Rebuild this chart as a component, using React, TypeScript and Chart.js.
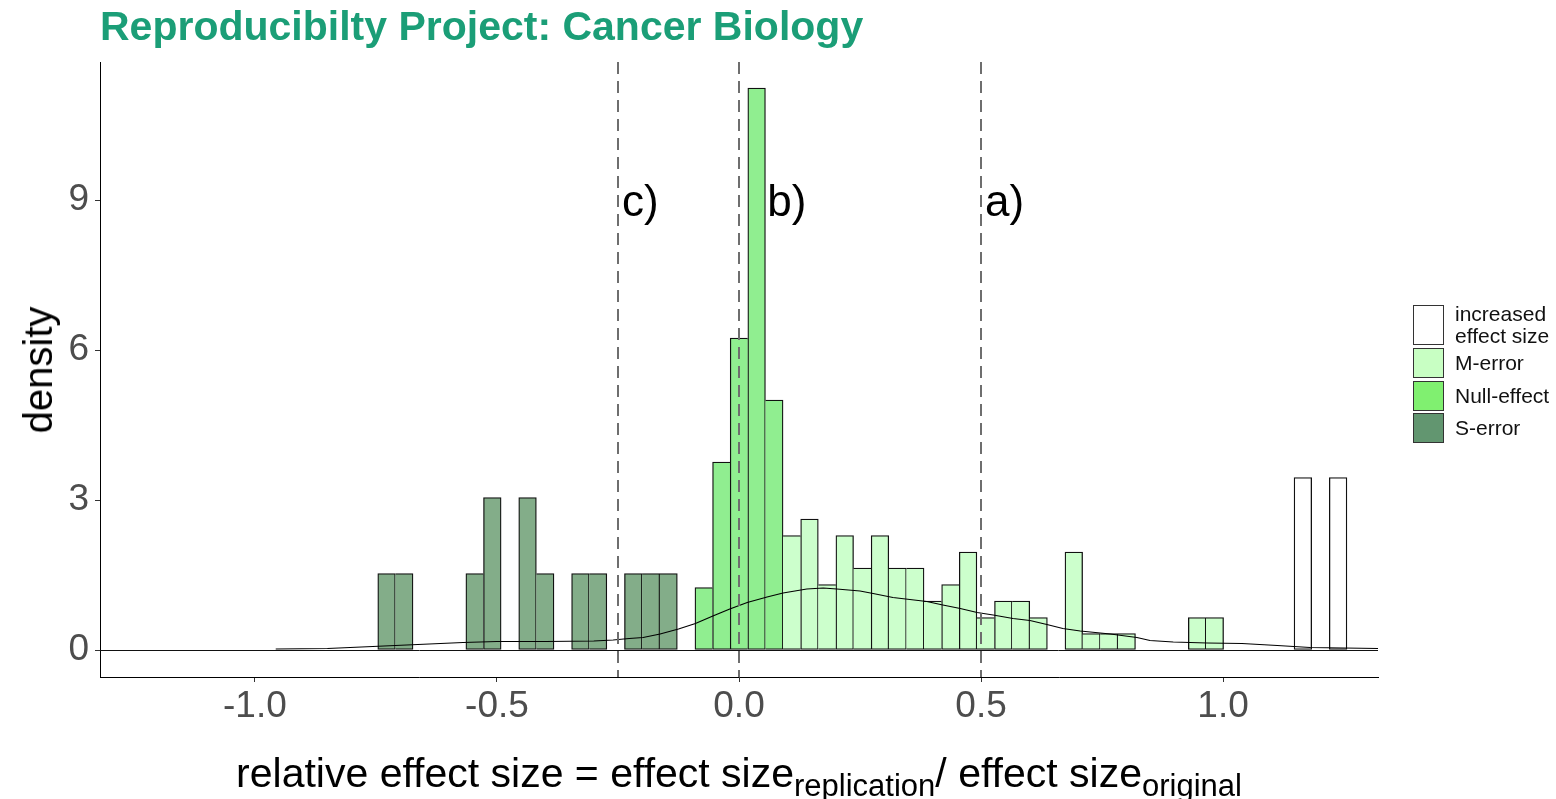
import React, { useEffect, useRef } from "react";
import { Chart, registerables } from "chart.js";

Chart.register(...registerables);

// ---- data ----
const binWidth = 0.0364;

const sErrorX = [-0.728, -0.6916, -0.546, -0.5096, -0.4368, -0.4004, -0.3276, -0.2912, -0.2184, -0.182, -0.1456];
const sErrorDensity = [1.53, 1.53, 1.53, 3.05, 3.05, 1.53, 1.53, 1.53, 1.53, 1.53, 1.53];

const nullX = [-0.0728, -0.0364, 0, 0.0364, 0.0728];
const nullDensity = [1.25, 3.76, 6.24, 11.24, 5.0];

const mErrorX = [0.1092, 0.1456, 0.182, 0.2184, 0.2548, 0.2912, 0.3276, 0.364, 0.4004, 0.4368, 0.4732, 0.5096, 0.546, 0.5824, 0.6188, 0.6916, 0.728, 0.7644, 0.8008, 0.9464, 0.9828];
const mErrorDensity = [2.29, 2.62, 1.31, 2.29, 1.64, 2.29, 1.64, 1.64, 0.98, 1.31, 1.96, 0.65, 0.98, 0.98, 0.65, 1.96, 0.33, 0.33, 0.33, 0.65, 0.65];

const increasedX = [1.1648, 1.2376];
const increasedDensity = [3.45, 3.45];

const kdeX = [-0.957, -0.85, -0.78, -0.71, -0.64, -0.57, -0.5, -0.4, -0.3, -0.26, -0.227, -0.198, -0.163, -0.125, -0.09, -0.054, -0.019, 0.017, 0.058, 0.091, 0.14, 0.174, 0.202, 0.25, 0.277, 0.318, 0.353, 0.388, 0.421, 0.457, 0.492, 0.525, 0.566, 0.601, 0.636, 0.669, 0.705, 0.767, 0.822, 0.849, 0.897, 0.967, 1.039, 1.112, 1.18, 1.32];
const kdeY = [0.02, 0.03, 0.06, 0.09, 0.12, 0.15, 0.17, 0.17, 0.18, 0.2, 0.23, 0.25, 0.32, 0.42, 0.53, 0.68, 0.82, 0.95, 1.06, 1.14, 1.22, 1.24, 1.22, 1.18, 1.13, 1.05, 1.01, 0.97, 0.9, 0.83, 0.75, 0.7, 0.63, 0.59, 0.51, 0.43, 0.38, 0.32, 0.25, 0.19, 0.16, 0.14, 0.13, 0.09, 0.05, 0.03];

const xTicks = [-1.0, -0.5, 0.0, 0.5, 1.0];
const yTicks = [0, 3, 6, 9];
const xLimits = [-1.32, 1.32];
const yLimits = [-0.54, 11.76];

const refLineX = [-0.25, 0.0, 0.5];
const refLabels = ["c)", "b)", "a)"];
const refLabelX = [-0.25, 0.05, 0.5];
const refLabelY = 9;

const legendLabels = ["increased\neffect size", "M-error", "Null-effect", "S-error"];

// ---- styles ----
const FONT = "'Liberation Sans', Arial, sans-serif";
const COL_S = "rgb(131,173,137)";
const COL_NULL = "rgb(144,238,144)";
const COL_M = "rgb(204,255,204)";
const COL_INC = "#ffffff";
const LEG_COLS = ["#ffffff", "rgb(200,255,195)", "rgb(128,240,112)", "rgb(98,150,112)"];

const pts = (xs: number[], ys: number[]) => xs.map((x, i) => ({ x, y: ys[i] }));

const allBars = [
  ...pts(sErrorX, sErrorDensity),
  ...pts(nullX, nullDensity),
  ...pts(mErrorX, mErrorDensity),
  ...pts(increasedX, increasedDensity),
];
const heightAt = (x: number): number | null => {
  const b = allBars.find((p) => Math.abs(p.x - x) < binWidth / 4);
  return b ? b.y : null;
};
const BW = 1.3;
// shared edges between neighbouring bars are outlined once, by the taller bar
const barBorder = (c: any) => {
  if (!c.raw) return BW;
  const { x, y } = c.raw;
  const r = heightAt(x + binWidth);
  const l = heightAt(x - binWidth);
  return {
    top: BW,
    bottom: BW,
    right: r === null || y >= r ? BW : 0,
    left: l === null || y > l ? BW : 0,
  };
};

const barStyle = {
  borderColor: "#111",
  borderWidth: barBorder,
  borderSkipped: false,
  grouped: false,
  barPercentage: 1,
  categoryPercentage: 1,
  order: 2,
};

const refPlugin = {
  id: "refLines",
  beforeDatasetsDraw(chart: any) {
    const { ctx, chartArea, scales } = chart;
    const y0 = Math.round(scales.y.getPixelForValue(0)) + 0.5;
    ctx.save();
    ctx.strokeStyle = "#111";
    ctx.lineWidth = 1;
    ctx.beginPath();
    ctx.moveTo(chartArea.left, y0);
    ctx.lineTo(chartArea.right, y0);
    ctx.stroke();
    ctx.restore();
  },
  afterDatasetsDraw(chart: any) {
    const { ctx, chartArea, scales } = chart;
    ctx.save();
    ctx.strokeStyle = "#6e6e6e";
    ctx.lineWidth = 2;
    ctx.setLineDash([12, 7]);
    refLineX.forEach((v) => {
      const px = Math.round(scales.x.getPixelForValue(v));
      ctx.beginPath();
      ctx.moveTo(px, chartArea.top);
      ctx.lineTo(px, chartArea.bottom);
      ctx.stroke();
    });
    ctx.setLineDash([]);
    ctx.fillStyle = "#000";
    ctx.font = `44px ${FONT}`;
    ctx.textAlign = "left";
    ctx.textBaseline = "middle";
    refLabels.forEach((t, i) => {
      const px = scales.x.getPixelForValue(refLabelX[i]) + 4;
      const py = scales.y.getPixelForValue(refLabelY) + 4;
      ctx.fillText(t, px, py);
    });
    ctx.restore();
  },
};

export default function App() {
  const canvasRef = useRef<HTMLCanvasElement | null>(null);

  useEffect(() => {
    const canvas = canvasRef.current;
    if (!canvas) return;
    const chart = new Chart(canvas, {
      type: "bar",
      data: {
        datasets: [
          {
            type: "line",
            label: "density",
            data: pts(kdeX, kdeY),
            borderColor: "#000",
            borderWidth: 1.2,
            pointRadius: 0,
            tension: 0,
            fill: false,
            order: 0,
          } as any,
          { label: "increased effect size", data: pts(increasedX, increasedDensity), backgroundColor: COL_INC, ...barStyle } as any,
          { label: "M-error", data: pts(mErrorX, mErrorDensity), backgroundColor: COL_M, ...barStyle } as any,
          { label: "Null-effect", data: pts(nullX, nullDensity), backgroundColor: COL_NULL, ...barStyle } as any,
          { label: "S-error", data: pts(sErrorX, sErrorDensity), backgroundColor: COL_S, ...barStyle } as any,
        ],
      },
      options: {
        animation: false,
        responsive: false,
        devicePixelRatio: 1,
        layout: { padding: { top: 62, right: 178, left: 0, bottom: 0 } },
        plugins: {
          legend: { display: false },
          tooltip: { enabled: false },
          title: { display: false },
        },
        scales: {
          x: {
            type: "linear",
            min: xLimits[0],
            max: xLimits[1],
            offset: false,
            afterBuildTicks: (s: any) => {
              s.ticks = xTicks.map((v) => ({ value: v }));
            },
            afterFit: (s: any) => {
              s.height = 122;
            },
            ticks: {
              callback: (v: any) => Number(v).toFixed(1),
              font: { family: FONT, size: 37 },
              color: "#4d4d4d",
              padding: 3,
              maxRotation: 0,
              autoSkip: false,
            },
            grid: { offset: false, drawOnChartArea: false, drawTicks: true, tickLength: 5, color: "#333", lineWidth: 1 },
            border: { display: true, color: "#000", width: 1 },
          },
          y: {
            type: "linear",
            min: yLimits[0],
            max: yLimits[1],
            afterBuildTicks: (s: any) => {
              s.ticks = yTicks.map((v) => ({ value: v }));
            },
            afterFit: (s: any) => {
              s.width = 100;
            },
            ticks: {
              callback: (v: any) => String(v),
              font: { family: FONT, size: 37 },
              color: "#4d4d4d",
              padding: 6,
              autoSkip: false,
            },
            grid: { offset: false, drawOnChartArea: false, drawTicks: true, tickLength: 5, color: "#333", lineWidth: 1 },
            border: { display: true, color: "#000", width: 1 },
          },
        },
      } as any,
      plugins: [refPlugin],
    });
    return () => chart.destroy();
  }, []);

  const legendTops = [305, 348, 381, 413];
  const legendHeights = [40, 30, 30, 30];

  return (
    <div
      style={{
        position: "fixed",
        left: 0,
        top: 0,
        width: 1556,
        height: 799,
        background: "#fff",
        fontFamily: FONT,
        overflow: "hidden",
      }}
    >
      <canvas ref={canvasRef} width={1556} height={799} style={{ position: "absolute", left: 0, top: 0, width: 1556, height: 799 }} />
      <div
        style={{
          position: "absolute",
          left: 100,
          top: 6,
          fontSize: 41,
          lineHeight: 1,
          fontWeight: "bold",
          color: "#1b9e77",
          whiteSpace: "nowrap",
        }}
      >
        Reproducibilty Project: Cancer Biology
      </div>
      <div
        style={{
          position: "absolute",
          left: 38,
          top: 370,
          fontSize: 40,
          lineHeight: 1,
          color: "#000",
          whiteSpace: "nowrap",
          transform: "translate(-50%, -50%) rotate(-90deg)",
        }}
      >
        density
      </div>
      <div
        style={{
          position: "absolute",
          left: 739,
          top: 753,
          fontSize: 41,
          lineHeight: 1,
          color: "#000",
          whiteSpace: "nowrap",
          transform: "translateX(-50%)",
        }}
      >
        relative effect size = effect size
        <span style={{ fontSize: 31, verticalAlign: "-9px", lineHeight: 1 }}>replication</span>/ effect size
        <span style={{ fontSize: 31, verticalAlign: "-9px", lineHeight: 1 }}>original</span>
      </div>
      {legendLabels.map((lab, i) => (
        <React.Fragment key={lab}>
          <div
            style={{
              position: "absolute",
              left: 1413,
              top: legendTops[i],
              width: 31,
              height: legendHeights[i],
              boxSizing: "border-box",
              border: "1px solid #333",
              background: LEG_COLS[i],
            }}
          />
          <div
            style={{
              position: "absolute",
              left: 1455,
              top: legendTops[i] + legendHeights[i] / 2,
              transform: "translateY(-50%)",
              fontSize: 21,
              lineHeight: "22px",
              color: "#111",
              whiteSpace: "pre",
            }}
          >
            {lab}
          </div>
        </React.Fragment>
      ))}
    </div>
  );
}
